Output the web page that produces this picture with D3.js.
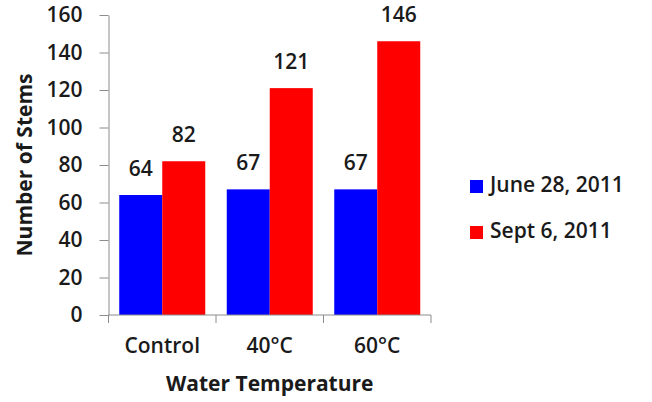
<!DOCTYPE html>
<html>
<head>
<meta charset="utf-8">
<script src="https://cdn.jsdelivr.net/npm/d3@7"></script>
<style>
  body { margin: 0; background: #fff; }
  text { font-family: "Open Sans", sans-serif; fill: #1a1a1a; }
</style>
</head>
<body>
<svg id="chart" width="652" height="402"></svg>
<script>
// data
const categories = ["Control", "40°C", "60°C"];
const seriesNames = ["June 28, 2011", "Sept 6, 2011"];
const june = [64, 67, 67];
const sept = [82, 121, 146];
const yTicks = [0, 20, 40, 60, 80, 100, 120, 140, 160];
const colors = ["#0000ff", "#ff0000"];

const svg = d3.select("#chart");
const fontSize = "21px";

// plot area
const plotLeft = 108.5, plotRight = 431, plotTop = 15, plotBottom = 315;

const x0 = d3.scaleBand()
  .domain(categories)
  .range([plotLeft, plotRight]);

const x1 = d3.scaleBand()
  .domain(seriesNames)
  .range([0, x0.bandwidth()])
  .paddingOuter(0.25);

const y = d3.scaleLinear()
  .domain([0, 160])
  .range([plotBottom, plotTop]);

// build rows for bars
const values = [june, sept];
const rows = [];
categories.forEach((c, i) => {
  seriesNames.forEach((s, j) => {
    rows.push({ cat: c, series: s, value: values[j][i], color: colors[j] });
  });
});

// bars
svg.append("g")
  .selectAll("rect")
  .data(rows)
  .join("rect")
    .attr("x", d => x0(d.cat) + x1(d.series))
    .attr("y", d => y(d.value))
    .attr("width", x1.bandwidth())
    .attr("height", d => y(0) - y(d.value))
    .attr("fill", d => d.color);

// value labels
svg.append("g")
  .selectAll("text")
  .data(rows)
  .join("text")
    .attr("x", d => x0(d.cat) + x1(d.series) + x1.bandwidth() / 2)
    .attr("y", d => y(d.value) - 19)
    .attr("text-anchor", "middle")
    .attr("font-size", fontSize)
    .attr("font-weight", 600)
    .text(d => d.value);

// y axis
const yAxis = svg.append("g")
  .attr("transform", `translate(${plotLeft},0)`)
  .call(d3.axisLeft(y).tickValues(yTicks).tickSize(9).tickPadding(17).tickSizeOuter(0));

// x axis, ticks sit on band edges
const xAxis = svg.append("g")
  .attr("transform", `translate(0,${plotBottom})`);
xAxis.append("line")
  .attr("x1", plotLeft).attr("x2", plotRight)
  .attr("stroke", "#8c8c8c");
const edges = categories.map(c => x0(c)).concat([plotRight]);
xAxis.selectAll(".edge")
  .data(edges)
  .join("line")
    .attr("class", "edge")
    .attr("x1", d => d).attr("x2", d => d)
    .attr("y1", 0).attr("y2", 8)
    .attr("stroke", "#8c8c8c");
xAxis.selectAll(".lbl")
  .data(categories)
  .join("text")
    .attr("class", "lbl")
    .attr("x", d => x0(d) + x0.bandwidth() / 2)
    .attr("y", 38)
    .attr("text-anchor", "middle")
    .attr("font-size", fontSize)
    .attr("font-weight", 600)
    .text(d => d);

yAxis.select(".domain").attr("stroke", "#8c8c8c");
yAxis.selectAll(".tick line").attr("stroke", "#8c8c8c");
yAxis.selectAll(".tick text")
  .attr("font-size", fontSize)
  .attr("font-weight", 600)
  .attr("font-family", "Open Sans, sans-serif")
  .attr("fill", "#1a1a1a");

// axis titles
svg.append("text")
  .attr("x", (plotLeft + plotRight) / 2)
  .attr("y", 391)
  .attr("text-anchor", "middle")
  .attr("font-size", fontSize)
  .attr("font-weight", 700)
  .text("Water Temperature");

svg.append("text")
  .attr("transform", `translate(32,${(plotTop + plotBottom) / 2}) rotate(-90)`)
  .attr("text-anchor", "middle")
  .attr("font-size", fontSize)
  .attr("font-weight", 700)
  .text("Number of Stems");

// legend
const legend = svg.append("g")
  .selectAll("g")
  .data(seriesNames)
  .join("g")
    .attr("transform", (d, i) => `translate(470,${180 + i * 46})`);
legend.append("rect")
  .attr("width", 13).attr("height", 13)
  .attr("fill", (d, i) => colors[i]);
legend.append("text")
  .attr("x", 20).attr("y", 12)
  .attr("font-size", fontSize)
  .attr("font-weight", 600)
  .text(d => d);
</script>
</body>
</html>
